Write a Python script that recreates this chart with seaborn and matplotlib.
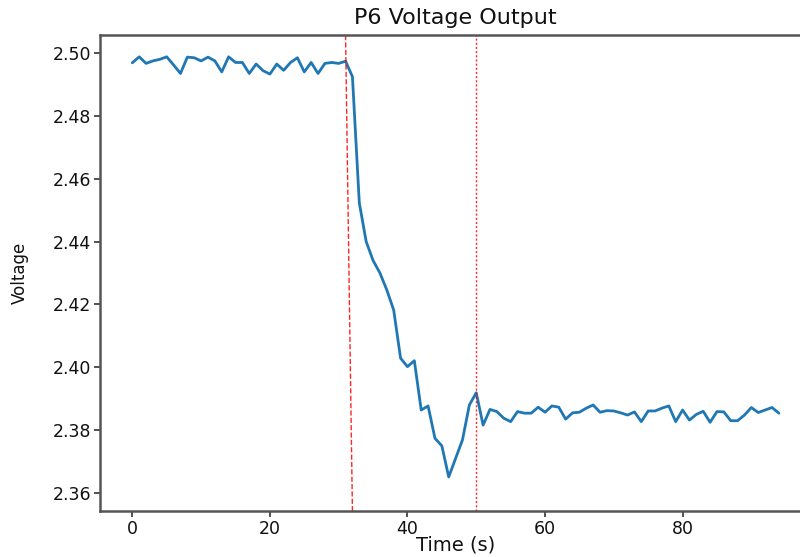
import numpy as np
import pandas as pd
import matplotlib
matplotlib.use("Agg")
import matplotlib.pyplot as plt
import seaborn as sns

# Sampled P6 output voltage, one reading per second
time_s = list(range(95))
voltage = [
    2.4969, 2.4988, 2.4967, 2.4975, 2.4980, 2.4988, 2.4962, 2.4935, 2.4987, 2.4985,
    2.4975, 2.4987, 2.4975, 2.4940, 2.4988, 2.4970, 2.4970, 2.4935, 2.4965, 2.4944,
    2.4933, 2.4965, 2.4945, 2.4970, 2.4985, 2.4940, 2.4970, 2.4935, 2.4967, 2.4970,
    2.4967, 2.4974, 2.4925, 2.4523, 2.4400, 2.4340, 2.4300, 2.4246, 2.4182, 2.4029,
    2.4002, 2.4021, 2.3864, 2.3877, 2.3774, 2.3750, 2.3651, 2.3710, 2.3769, 2.3880,
    2.3919, 2.3816, 2.3866, 2.3859, 2.3838, 2.3827, 2.3859, 2.3854, 2.3854, 2.3873,
    2.3857, 2.3877, 2.3873, 2.3835, 2.3855, 2.3857, 2.3870, 2.3880, 2.3857, 2.3862,
    2.3861, 2.3855, 2.3848, 2.3858, 2.3827, 2.3861, 2.3861, 2.3870, 2.3877, 2.3827,
    2.3864, 2.3832, 2.3850, 2.3860, 2.3825, 2.3859, 2.3858, 2.3830, 2.3830, 2.3848,
    2.3872, 2.3856, 2.3864, 2.3872, 2.3854,
]

# Event markers: load step start (drawn from top to bottom edge) and settling point
step_start = [31, 32]
settle_time = 50

df = pd.DataFrame({"Time (s)": time_s, "Voltage": voltage})

sns.set_style("ticks")
plt.rcParams["font.family"] = ["DejaVu Sans"]

fig = plt.figure(figsize=(8.0, 5.57), dpi=100)
ax = fig.add_axes([0.125, 0.0826, 0.889, 0.8545])

sns.lineplot(data=df, x="Time (s)", y="Voltage", ax=ax, color="#1f77b4", linewidth=2)

trans = ax.get_xaxis_transform()
ax.plot(step_start, [1, 0], transform=trans, color="red", linestyle="--",
        linewidth=1, alpha=0.85)
ax.axvline(settle_time, color="red", linestyle=(0, (1.5, 1.5)), linewidth=1, alpha=0.85)

ax.set_xlim(-4.7, 98.7)
ax.set_ylim(2.35427, 2.50573)
ax.set_xticks([0, 20, 40, 60, 80])
ax.set_yticks([2.36, 2.38, 2.40, 2.42, 2.44, 2.46, 2.48, 2.50])
ax.yaxis.set_major_formatter(matplotlib.ticker.FormatStrFormatter("%.2f"))

title = ax.set_title("P6 Voltage Output", fontsize=16, color="#111111", y=1.036, pad=0)
title.set_va("center")
ax.set_xlabel("Time (s)", fontsize=14, color="#111111")
ax.set_ylabel("Voltage", fontsize=12, color="#111111")
ax.xaxis.set_label_coords(0.5, -0.072)
ax.yaxis.set_label_coords(-0.112, 0.5)
ax.xaxis.label.set_va("center")
ax.yaxis.label.set_va("center")
ax.tick_params(labelsize=12.5, length=4, width=1.2, pad=2.5, color="#333333",
               labelcolor="#111111")
for sp in ax.spines.values():
    sp.set_color("#555555")
    sp.set_linewidth(1.8)

fig.savefig("out.png", dpi=100)
